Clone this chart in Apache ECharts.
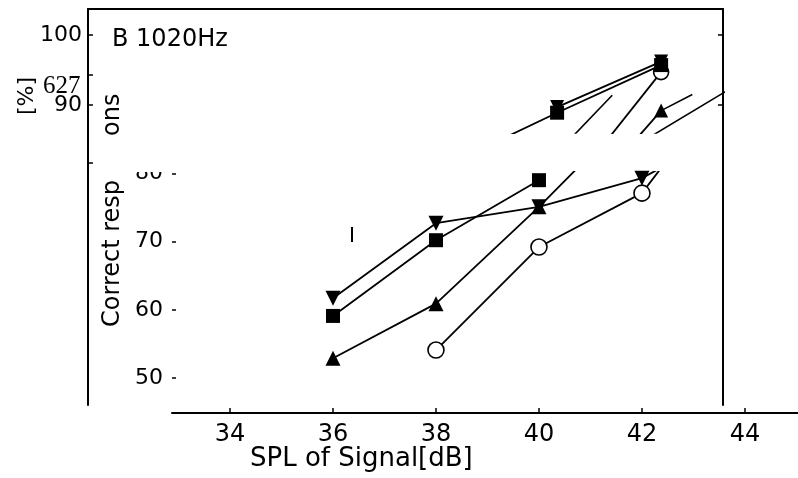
<!DOCTYPE html>
<html>
<head>
<meta charset="utf-8">
<script src="https://cdn.jsdelivr.net/npm/echarts@6/dist/echarts.min.js"></script>
<style>
html,body{margin:0;padding:0;background:#fff;}
#chart{width:798px;height:478px;}
</style>
</head>
<body>
<div id="chart"></div>
<script>
// ---- data ----
const xTicks = [34, 36, 38, 40, 42, 44];
const yTicksLower = [50, 60, 70, 80];
const yTicksUpper = [90, 100];
const levels = [36, 38, 40, 42, 44];
const squareVals   = [59.1, 70.2, 79.0, null, null];
const downTriVals  = [61.7, 72.7, 75.1, 79.3, 87.5];
const upTriVals    = [52.9, 60.9, 75.1, 90.3, null];
const circleVals   = [null, 54.1, 69.2, 77.1, 96.9];

// displaced upper fragment of the scan
const fragSquare = [[38.9, 85.0], [40, 88.9], [42, 95.7]];
const fragDown   = [[40, 89.7], [42, 96.2]];
const fragCircle = [[40.9, 84.4], [42, 94.7]];
const fragUp     = [[41.6, 85.8], [42, 89.2]];
const fragUpTail = [[42, 89.2], [42.6, 91.5]];
const fragLineA  = [[41.8, 85.5], [43.3, 92.2]];
const fragLineB  = [[40.3, 85.5], [41.06, 91.4]];

const FONT = 'DejaVu Sans';
const pair = (xs, ys) => xs.map((x, i) => [x, ys[i]]);

const base = {
  type: 'line', clip: true, animation: false,
  lineStyle: { color: '#000', width: 1.8 },
  itemStyle: { color: '#000' },
  symbolSize: 14, showSymbol: true, showAllSymbol: true
};
const circleStyle = { color: '#fff', borderColor: '#000', borderWidth: 1.6 };
const plainLine = { symbol: 'none', lineStyle: { color: '#000', width: 1.6 } };

const chart = echarts.init(document.getElementById('chart'), null, { renderer: 'canvas' });
chart.setOption({
  animation: false,
  backgroundColor: '#fff',
  grid: [
    { left: 172, right: 0, top: 172, bottom: 65 },
    { left: 88, right: 75, top: 9, bottom: 73 },
    { left: 88, right: 75, top: 9, bottom: 345 }
  ],
  xAxis: [
    { gridIndex: 0, type: 'value', min: 32.874, max: 45.03, position: 'bottom',
      axisLine: { lineStyle: { color: '#000', width: 2 } },
      axisTick: { inside: true, length: 5, customValues: xTicks, lineStyle: { color: '#000', width: 1.5 } },
      axisLabel: { customValues: xTicks, fontFamily: FONT, fontSize: 24, color: '#000', margin: 10 },
      splitLine: { show: false } },
    { gridIndex: 1, type: 'value', min: 30.98, max: 43.19, position: 'top',
      axisLine: { lineStyle: { color: '#000', width: 2 } },
      axisTick: { show: false }, axisLabel: { show: false }, splitLine: { show: false } },
    { gridIndex: 2, type: 'value', min: 30.98, max: 43.19, show: false, splitLine: { show: false } }
  ],
  yAxis: [
    { gridIndex: 0, type: 'value', min: 44.87, max: 80.2,
      axisLine: { show: false },
      axisTick: { show: true, inside: true, length: 4, customValues: yTicksLower, lineStyle: { color: '#000', width: 1.5 } },
      axisLabel: { customValues: yTicksLower, fontFamily: FONT, fontSize: 22, color: '#000', margin: 9 },
      splitLine: { show: false } },
    { gridIndex: 1, type: 'value', min: 47.14, max: 103.71, position: 'left',
      axisLine: { show: true, lineStyle: { color: '#000', width: 2 } },
      axisTick: { show: true, inside: true, length: 5, customValues: [100, 94.3, 90, 81.7], lineStyle: { color: '#000', width: 1.5 } },
      axisLabel: { customValues: yTicksUpper, fontFamily: FONT, fontSize: 22, color: '#000', margin: 6, padding: [10, 0, 0, 0] },
      splitLine: { show: false } },
    { gridIndex: 1, type: 'value', min: 47.14, max: 103.71, position: 'right',
      axisLine: { show: true, lineStyle: { color: '#000', width: 2 } },
      axisTick: { show: true, inside: true, length: 5, customValues: yTicksUpper, lineStyle: { color: '#000', width: 1.5 } },
      axisLabel: { show: false }, splitLine: { show: false } },
    { gridIndex: 2, type: 'value', min: 86.0, max: 103.71, show: false, splitLine: { show: false } }
  ],
  series: [
    Object.assign({}, base, { name: 'circle', xAxisIndex: 0, yAxisIndex: 0, data: pair(levels, circleVals),
      symbol: 'circle', symbolSize: 16, itemStyle: circleStyle }),
    Object.assign({}, base, { name: 'up', xAxisIndex: 0, yAxisIndex: 0, data: pair(levels, upTriVals),
      symbol: 'triangle', symbolSize: 15 }),
    Object.assign({}, base, { name: 'down', xAxisIndex: 0, yAxisIndex: 0, data: pair(levels, downTriVals),
      symbol: 'triangle', symbolRotate: 180, symbolSize: 15 }),
    Object.assign({}, base, { name: 'square', xAxisIndex: 0, yAxisIndex: 0, data: pair(levels, squareVals),
      symbol: 'rect', symbolSize: 14 }),
    // fragment
    Object.assign({}, base, { xAxisIndex: 2, yAxisIndex: 3, data: fragCircle, symbol: 'circle', symbolSize: 15, itemStyle: circleStyle }),
    Object.assign({}, base, { xAxisIndex: 2, yAxisIndex: 3, data: fragDown, symbol: 'triangle', symbolRotate: 180, symbolSize: 14 }),
    Object.assign({}, base, { xAxisIndex: 2, yAxisIndex: 3, data: fragSquare, symbol: 'rect', symbolSize: 14 }),
    Object.assign({}, base, { xAxisIndex: 2, yAxisIndex: 3, data: fragUpTail }, plainLine),
    Object.assign({}, base, { xAxisIndex: 2, yAxisIndex: 3, data: fragUp, symbol: 'triangle', symbolSize: 14 }),
    Object.assign({}, base, { xAxisIndex: 2, yAxisIndex: 3, data: fragLineA }, plainLine),
    Object.assign({}, base, { xAxisIndex: 2, yAxisIndex: 3, data: fragLineB }, plainLine)
  ],
  graphic: [
    { type: 'rect', z: 100, shape: { x: 126, y: 150, width: 44, height: 22 }, style: { fill: '#fff' } },
    { type: 'text', z: 101, x: 112, y: 40, style: { text: 'B 1020Hz', fontFamily: FONT, fontSize: 24, fill: '#000', verticalAlign: 'middle' } },
    { type: 'text', z: 101, x: 250, y: 459, style: { text: 'SPL of Signal[dB]', fontFamily: FONT, fontSize: 26, fill: '#000', verticalAlign: 'middle' } },
    { type: 'text', z: 101, x: 113, y: 327, rotation: Math.PI / 2, style: { text: 'Correct resp', fontFamily: FONT, fontSize: 24, fill: '#000', align: 'left', verticalAlign: 'middle' } },
    { type: 'text', z: 101, x: 113, y: 136, rotation: Math.PI / 2, style: { text: 'ons', fontFamily: FONT, fontSize: 24, fill: '#000', align: 'left', verticalAlign: 'middle' } },
    { type: 'text', z: 101, x: 27, y: 115, rotation: Math.PI / 2, style: { text: '[%]', fontFamily: FONT, fontSize: 22, fill: '#000', align: 'left', verticalAlign: 'middle' } },
    { type: 'text', z: 101, x: 43, y: 86, style: { text: '627', fontFamily: 'Liberation Serif', fontSize: 25, fill: '#000', verticalAlign: 'middle' } },
    { type: 'line', z: 101, shape: { x1: 352, y1: 227, x2: 352, y2: 242 }, style: { stroke: '#000', lineWidth: 2 } }
  ]
});
</script>
</body>
</html>
